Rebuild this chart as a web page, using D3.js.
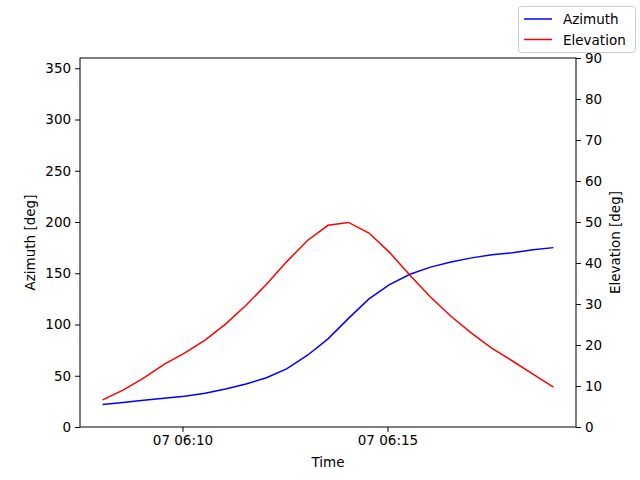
<!DOCTYPE html>
<html><head><meta charset="utf-8">
<script src="https://cdn.jsdelivr.net/npm/d3@7"></script>
<style>body{margin:0;background:#fff}text{font-family:"DejaVu Sans",sans-serif}</style>
</head><body><div id="container"></div>
<script>
// samples every 30 s starting 06:08:03
const startTime = new Date(2024, 0, 7, 6, 8, 3);
const azimuth = [22, 24, 26, 28, 30, 33, 37, 42, 48, 57, 70, 86, 106, 125, 139, 149, 156, 161, 165, 168, 170, 173, 175];
const elevation = [6.6, 9.0, 11.9, 15.3, 18.0, 21.2, 25.1, 29.7, 34.8, 40.4, 45.5, 49.2, 49.9, 47.3, 42.6, 37.0, 31.7, 27.0, 22.9, 19.2, 16.1, 12.9, 9.7];
const times = azimuth.map((d, i) => new Date(+startTime + i * 30000));
const azTicks = [0, 50, 100, 150, 200, 250, 300, 350];
const elTicks = [0, 10, 20, 30, 40, 50, 60, 70, 80, 90];
const timeTicks = [new Date(2024, 0, 7, 6, 10), new Date(2024, 0, 7, 6, 15)];

const width = 640, height = 480;
const plotLeft = 80, plotRight = 576, plotTop = 58, plotBottom = 427;

const svg = d3.select("#container").append("svg")
  .attr("width", width).attr("height", height);

const span = times[times.length - 1] - times[0];
const xScale = d3.scaleTime()
  .domain([new Date(+times[0] - span * 0.05), new Date(+times[times.length - 1] + span * 0.05)])
  .range([plotLeft, plotRight]);
const yAz = d3.scaleLinear().domain([0, 360]).range([plotBottom, plotTop]);
const yEl = d3.scaleLinear().domain([0, 90]).range([plotBottom, plotTop]);

const fmt = d => "07 " + d3.timeFormat("%H:%M")(d);

function styleAxis(g) {
  g.selectAll("text").style("font-size", "13.5px").attr("fill", "black");
  g.selectAll("line").attr("stroke", "black");
  g.select(".domain").remove();
}

svg.append("g").attr("transform", `translate(0,${plotBottom})`)
  .call(d3.axisBottom(xScale).tickValues(timeTicks).tickFormat(fmt).tickSize(4.9).tickPadding(4))
  .call(styleAxis);
svg.append("g").attr("transform", `translate(${plotLeft},0)`)
  .call(d3.axisLeft(yAz).tickValues(azTicks).tickSize(4.9).tickPadding(4))
  .call(styleAxis);
svg.append("g").attr("transform", `translate(${plotRight},0)`)
  .call(d3.axisRight(yEl).tickValues(elTicks).tickSize(4.9).tickPadding(4))
  .call(styleAxis);

svg.append("rect").attr("x", plotLeft).attr("y", plotTop)
  .attr("width", plotRight - plotLeft).attr("height", plotBottom - plotTop)
  .attr("fill", "none").attr("stroke", "black").attr("stroke-width", 1);

const lineAz = d3.line().x((d, i) => xScale(times[i])).y(d => yAz(d));
const lineEl = d3.line().x((d, i) => xScale(times[i])).y(d => yEl(d));
svg.append("path").datum(azimuth).attr("d", lineAz)
  .attr("fill", "none").attr("stroke", "blue").attr("stroke-width", 1.5);
svg.append("path").datum(elevation).attr("d", lineEl)
  .attr("fill", "none").attr("stroke", "red").attr("stroke-width", 1.5);

// axis titles
svg.append("text").attr("x", (plotLeft + plotRight) / 2).attr("y", 467)
  .attr("text-anchor", "middle").style("font-size", "13.5px").text("Time");
svg.append("text").attr("transform", `translate(35,${(plotTop + plotBottom) / 2}) rotate(-90)`)
  .attr("text-anchor", "middle").style("font-size", "13.5px").text("Azimuth [deg]");
svg.append("text").attr("transform", `translate(620,${(plotTop + plotBottom) / 2}) rotate(-90)`)
  .attr("text-anchor", "middle").style("font-size", "13.5px").text("Elevation [deg]");

// legend
const legend = svg.append("g");
legend.append("rect").attr("x", 518.5).attr("y", 6.5).attr("width", 117).attr("height", 46)
  .attr("rx", 3).attr("fill", "white").attr("stroke", "#cccccc");
[["Azimuth", "blue"], ["Elevation", "red"]].forEach(([name, color], i) => {
  const y = 19 + i * 20.5;
  legend.append("line").attr("x1", 524).attr("x2", 552).attr("y1", y).attr("y2", y)
    .attr("stroke", color).attr("stroke-width", 1.5);
  legend.append("text").attr("x", 563).attr("y", y + 5).style("font-size", "13.5px").text(name);
});
</script>
</body></html>
